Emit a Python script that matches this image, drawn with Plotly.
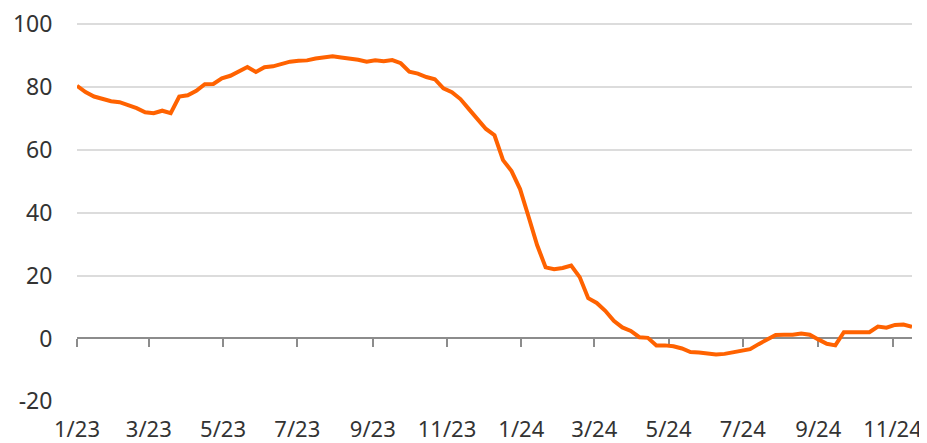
import pandas as pd
import plotly.graph_objects as go

# Weekly observations, first week of Jan 2023 to mid-Nov 2024
start_date = "2023-01-01"
n_weeks = 99
values = [
    80.3, 78.3, 76.9, 76.0, 75.4, 75.1, 74.3, 73.2, 71.9, 71.6,
    72.4, 71.6, 76.9, 77.3, 78.7, 80.8, 80.9, 82.7, 83.5, 84.8,
    86.3, 84.7, 86.2, 86.5, 87.4, 88.0, 88.3, 88.4, 89.0, 89.5,
    89.7, 89.3, 89.1, 88.6, 88.0, 88.4, 88.1, 88.5, 87.5, 84.8,
    84.2, 83.1, 82.4, 79.5, 78.3, 76.1, 72.9, 69.6, 66.6, 64.6,
    56.7, 53.2, 47.5, 38.7, 29.7, 22.6, 22.0, 22.4, 23.2, 19.5,
    12.8, 11.3, 8.8, 5.6, 3.5, 2.4, 0.4, 0.2, -2.2, -2.2,
    -2.5, -3.2, -4.3, -4.5, -4.9, -5.1, -4.9, -4.5, -3.9, -3.4,
    -1.8, -0.2, 1.1, 1.2, 1.2, 1.6, 1.2, -0.3, -1.7, -2.2,
    2.0, 2.0, 2.0, 2.0, 3.8, 3.4, 4.3, 4.4, 3.7,
]
dates = pd.date_range(start_date, periods=n_weeks, freq="7D")

tick_dates = ["2023-01-01", "2023-03-01", "2023-05-01", "2023-07-01", "2023-09-01",
              "2023-11-01", "2024-01-01", "2024-03-01", "2024-05-01", "2024-07-01",
              "2024-09-01", "2024-11-01"]
tick_labels = ["1/23", "3/23", "5/23", "7/23", "9/23", "11/23",
               "1/24", "3/24", "5/24", "7/24", "9/24", "11/24"]
y_ticks = [-20, 0, 20, 40, 60, 80, 100]
y_tick_labels = ["-20", "0", "20", "40", "60", "80", "100"]

x_range = [dates[0], dates[-1]]
y_min, y_max = -20.2, 100.6

fig = go.Figure()
# invisible companion trace so the label axis (bottom) is drawn
fig.add_trace(go.Scatter(
    x=dates, y=values, mode="lines", xaxis="x2",
    line=dict(color="rgba(0,0,0,0)", width=0),
    hoverinfo="skip", showlegend=False,
))
fig.add_trace(go.Scatter(
    x=dates, y=values, mode="lines",
    line=dict(color="#FF6200", width=4),
    hoverinfo="x+y", showlegend=False,
))

font = dict(family="Noto Sans, Open Sans, sans-serif", size=23, color="#333333")
xfont = dict(family="Noto Sans, Open Sans, sans-serif", size=22, color="#333333")

# page body has an 8px default margin, so the figure is sized to fit the window
fig.update_layout(
    width=919, height=435,
    margin=dict(l=69, r=15, t=14, b=41),
    paper_bgcolor="white", plot_bgcolor="white",
    font=font,
    xaxis=dict(
        type="date", range=x_range, automargin=False,
        anchor="free", position=(0 - y_min) / (y_max - y_min),
        showline=True, linecolor="#8c8c8c", linewidth=1.5,
        ticks="outside", ticklen=8, tickwidth=1.5, tickcolor="#8c8c8c",
        tickvals=tick_dates, showticklabels=False,
        showgrid=False, zeroline=False, layer="below traces",
    ),
    xaxis2=dict(
        type="date", range=x_range, overlaying="x", side="bottom", anchor="y",
        automargin=False, ticklabeloverflow="allow",
        tickvals=tick_dates, ticktext=tick_labels,
        ticks="outside", ticklen=8, tickcolor="rgba(0,0,0,0)",
        showline=False, showgrid=False, zeroline=False,
        tickfont=xfont,
    ),
    yaxis=dict(
        range=[y_min, y_max], tickvals=y_ticks, ticktext=y_tick_labels,
        domain=[0, 1], automargin=False, ticklabeloverflow="allow",
        showgrid=True, gridcolor="#dcdcdc", gridwidth=1.5,
        zeroline=False, showline=False,
        ticks="outside", ticklen=19, tickcolor="rgba(0,0,0,0)",
        tickfont=font,
    ),
)

fig.write_html("out.html")
